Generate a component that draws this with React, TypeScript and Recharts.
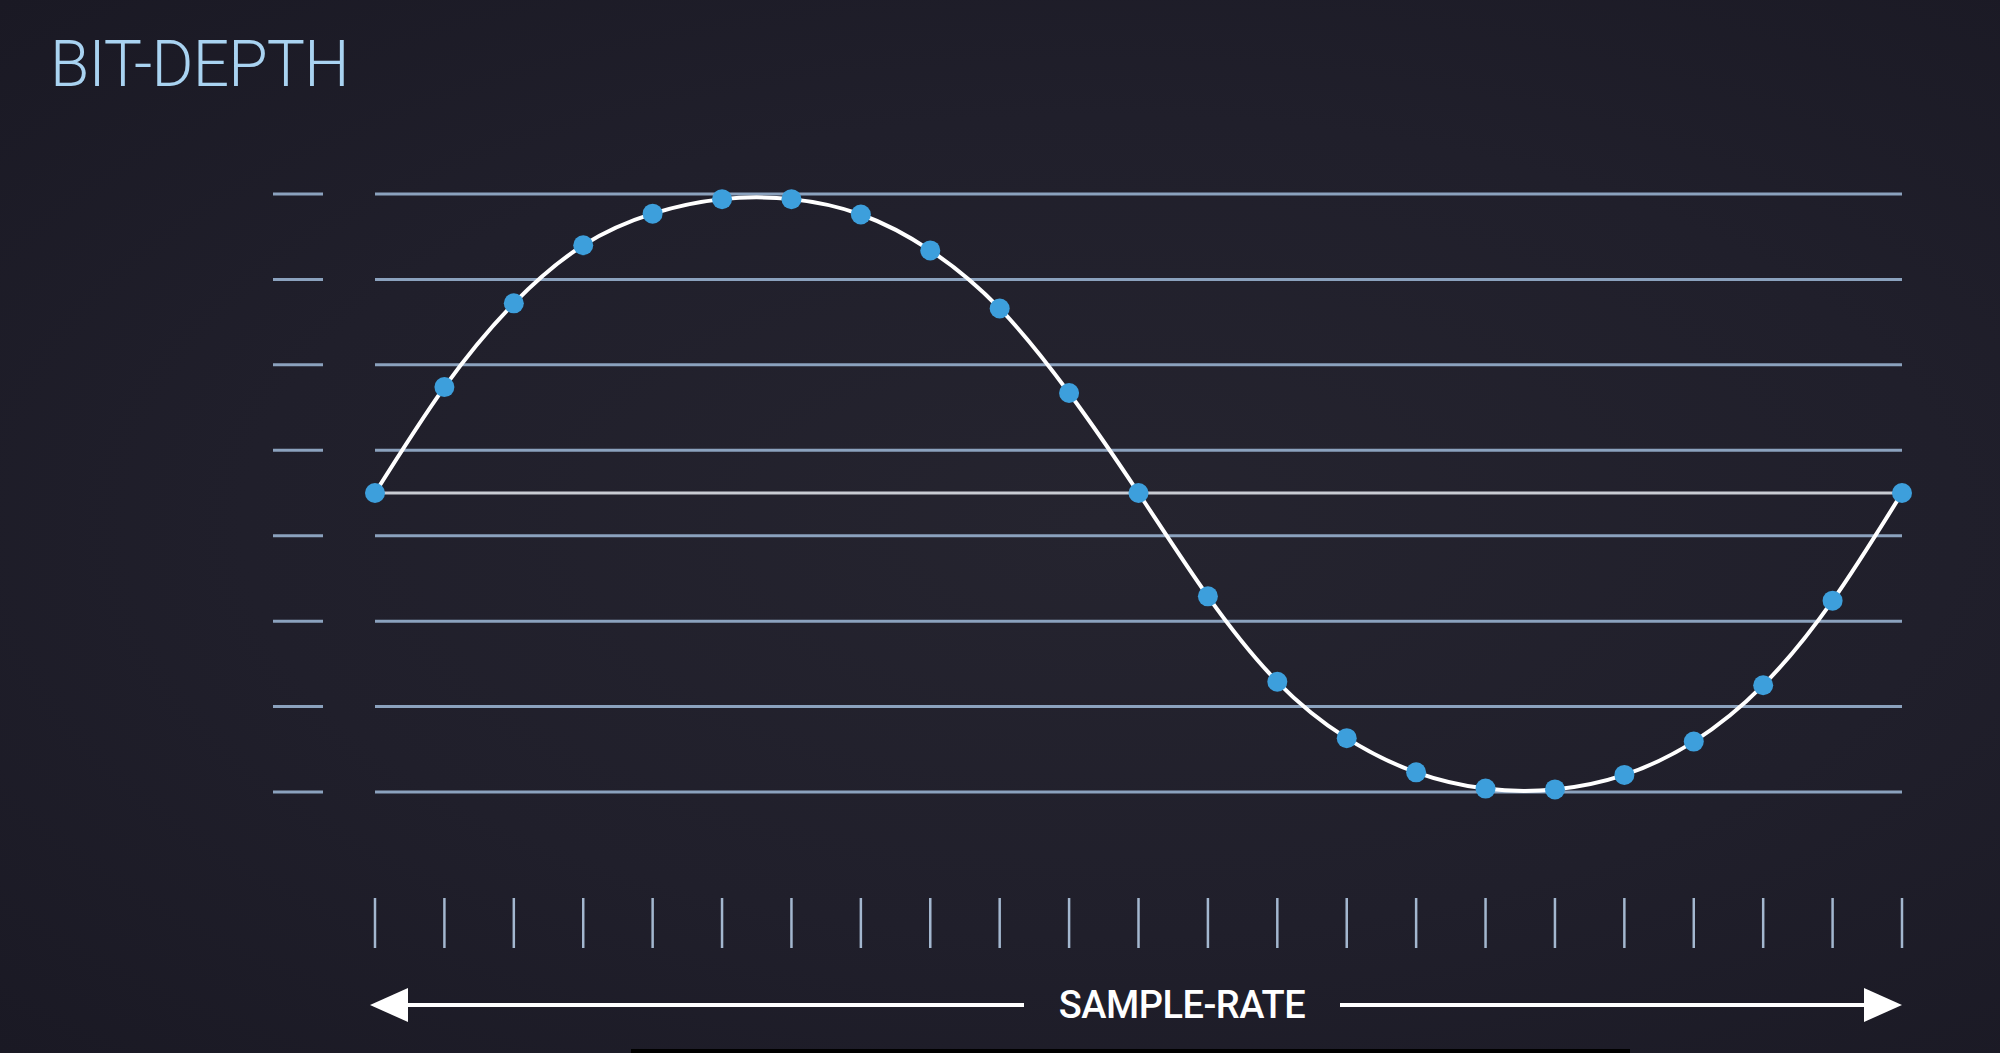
import React from 'react';
import { LineChart, Line, XAxis, YAxis, CartesianGrid, ReferenceLine, Label } from 'recharts';

// sample positions along the time axis
const sampleIndex = [0, 1, 2, 3, 4, 5, 6, 7, 8, 9, 10, 11, 12, 13, 14, 15, 16, 17, 18, 19, 20, 21, 22];
// amplitude of each sample, in quantization steps
const amplitude = [
  0, 1.24, 2.22, 2.9, 3.27, 3.44, 3.44, 3.26, 2.84, 2.16, 1.17, 0,
  -1.21, -2.21, -2.87, -3.27, -3.46, -3.47, -3.3, -2.91, -2.25, -1.26, 0,
];
// quantization levels (3 bits -> 8 levels)
const levels = [-3.5, -2.5, -1.5, -0.5, 0.5, 1.5, 2.5, 3.5];

const data = sampleIndex.map((i, k) => ({ i, v: amplitude[k] }));

const GRID = '#8ba2be';
const DOT = '#3d9fdc';

const LevelTick = (props: any) => {
  const { x, y } = props;
  return <line x1={x - 50} x2={x} y1={y} y2={y} stroke={GRID} strokeWidth={3} />;
};

const SampleTick = (props: any) => {
  const { x, y } = props;
  return <line x1={x} x2={x} y1={y} y2={y + 50} stroke="#a3b7cf" strokeWidth={2.5} />;
};

const SampleRateLabel = (props: any) => {
  const { x, y, width } = props.viewBox;
  const ay = y + 213;
  const right = x + width;
  return (
    <g>
      <line x1={x + 30} x2={x + 649} y1={ay} y2={ay} stroke="#ffffff" strokeWidth={4} />
      <polygon points={`${x - 5},${ay} ${x + 33},${ay - 17} ${x + 33},${ay + 17}`} fill="#ffffff" />
      <text
        x={x + 807}
        y={ay + 13}
        textAnchor="middle"
        fill="#ffffff"
        fontFamily="Roboto, 'Noto Sans', sans-serif"
        fontWeight={500}
        fontSize={38}
        letterSpacing={-0.5}
      >
        SAMPLE-RATE
      </text>
      <line x1={x + 965} x2={right - 30} y1={ay} y2={ay} stroke="#ffffff" strokeWidth={4} />
      <polygon points={`${right},${ay} ${right - 38},${ay - 17} ${right - 38},${ay + 17}`} fill="#ffffff" />
    </g>
  );
};

export default function App() {
  return (
    <div
      style={{
        position: 'absolute',
        left: 0,
        top: 0,
        width: 2000,
        height: 1053,
        overflow: 'hidden',
        background: 'radial-gradient(ellipse at 55% 50%, #25242f 0%, #201f2b 55%, #1a1924 100%)',
      }}
    >
      <svg width={420} height={120} style={{ position: 'absolute', left: 0, top: 0 }}>
        <text
          x={50}
          y={86}
          fill="#a9d3f1"
          fontFamily="Roboto, 'Noto Sans', sans-serif"
          fontWeight={300}
          fontSize={64}
          letterSpacing={-0.8}
        >
          BIT-DEPTH
        </text>
      </svg>
      <LineChart
        width={2000}
        height={1053}
        data={data}
        margin={{ top: 194, right: 98, bottom: 0, left: 0 }}
        style={{ position: 'absolute', left: 0, top: 0 }}
      >
        <CartesianGrid vertical={false} stroke={GRID} strokeWidth={3} />
        <XAxis
          type="number"
          dataKey="i"
          domain={[0, 22]}
          ticks={sampleIndex}
          interval={0}
          height={261}
          tickSize={0}
          tickMargin={106}
          tickLine={false}
          axisLine={false}
          tick={<SampleTick />}
        >
          <Label content={<SampleRateLabel />} />
        </XAxis>
        <YAxis
          type="number"
          domain={[-3.5, 3.5]}
          ticks={levels}
          width={375}
          tickSize={0}
          tickMargin={52}
          tickLine={false}
          axisLine={false}
          tick={<LevelTick />}
        />
        <ReferenceLine y={0} stroke="#c9ccd3" strokeWidth={3} />
        <Line
          type="natural"
          dataKey="v"
          stroke="#ffffff"
          strokeWidth={4}
          dot={{ r: 10, fill: DOT, stroke: 'none', strokeWidth: 0 }}
          activeDot={false}
          isAnimationActive={false}
        />
      </LineChart>
      <div style={{ position: 'absolute', left: 631, top: 1049, width: 999, height: 4, background: '#000' }} />
    </div>
  );
}
